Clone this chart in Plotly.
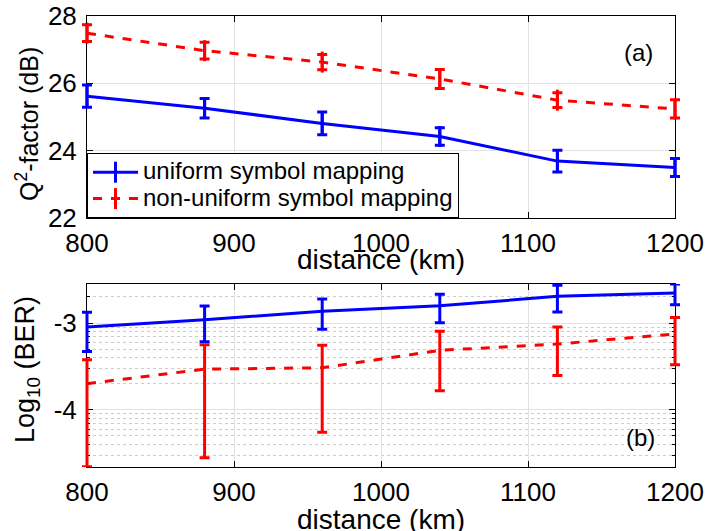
import plotly.graph_objects as go

# ---------------- data ----------------
distance = [800, 880, 960, 1040, 1120, 1200]

q2_uniform = [25.62, 25.26, 24.81, 24.42, 23.69, 23.50]
q2_uniform_err = [0.33, 0.29, 0.34, 0.26, 0.32, 0.27]
q2_nonuniform = [27.49, 26.97, 26.63, 26.13, 25.50, 25.24]
q2_nonuniform_err = [0.25, 0.25, 0.23, 0.28, 0.22, 0.27]

ber_uniform = [9.0e-4, 1.09e-3, 1.37e-3, 1.58e-3, 2.03e-3, 2.22e-3]
ber_uniform_err = [4.3e-4, 4.8e-4, 5.2e-4, 5.7e-4, 6.9e-4, 6.0e-4]
ber_nonuniform = [2.0e-4, 2.94e-4, 3.05e-4, 4.84e-4, 5.73e-4, 7.46e-4]
ber_nonuniform_err = [1.78e-4, 2.66e-4, 2.5e-4, 3.18e-4, 3.25e-4, 4.15e-4]

x_ticks = [800, 900, 1000, 1100, 1200]
q2_ticks = [22, 24, 26, 28]
ber_ticks = [1e-4, 1e-3]
ber_ticktext = ["-4", "-3"]
ber_minor = [m * 10.0 ** e for e in (-5, -4, -3) for m in range(2, 10)]

names = ["uniform symbol mapping", "non-uniform symbol mapping"]

# ---------------- figure ----------------
W, H = 706, 531
FONT = "Liberation Sans, Arial, sans-serif"
BLUE = "#0000FF"
RED = "#FF0000"

X_RANGE = [800, 1200]
PX_L, PX_R = 87, 675          # plot area left/right (pixels)
PAD = 10                      # extra room so end error bars are not clipped
km_per_px = (X_RANGE[1] - X_RANGE[0]) / (PX_R - PX_L)
X_RANGE_AUX = [X_RANGE[0] - PAD * km_per_px, X_RANGE[1] + PAD * km_per_px]

dom_x = [PX_L / W, PX_R / W]
dom_x_aux = [(PX_L - PAD) / W, (PX_R + PAD) / W]
dom_y_top = [1 - 218 / H, 1 - 16 / H]
dom_y_bot = [1 - 467 / H, 1 - 284 / H]
Q2_RANGE = [22, 28]
BER_RANGE = [-4.66, -2.55]

fig = go.Figure()

series = [
    (q2_uniform, q2_uniform_err, ber_uniform, ber_uniform_err, BLUE, "solid", names[0]),
    (q2_nonuniform, q2_nonuniform_err, ber_nonuniform, ber_nonuniform_err, RED, "dash", names[1]),
]

for q2, q2e, ber, bere, col, dash, nm in series:
    legend_name = f"<span style='font-size:24px'>{nm}</span>"
    # lines (main axes)
    fig.add_trace(go.Scatter(
        x=distance, y=q2, mode="lines+markers", name=legend_name,
        line=dict(color=col, width=3, dash=dash),
        marker=dict(symbol="line-ns", size=15, line=dict(color=col, width=3)),
        xaxis="x", yaxis="y", cliponaxis=False,
    ))
    fig.add_trace(go.Scatter(
        x=distance, y=ber, mode="lines", name=legend_name, showlegend=False,
        line=dict(color=col, width=3, dash=dash),
        xaxis="x2", yaxis="y2",
    ))
    # error bars (slightly wider auxiliary axes with the same scale)
    fig.add_trace(go.Scatter(
        x=distance, y=q2, mode="none", showlegend=False, hoverinfo="skip",
        error_y=dict(type="data", array=q2e, color=col, thickness=3, width=5),
        xaxis="x3", yaxis="y3",
    ))
    fig.add_trace(go.Scatter(
        x=distance, y=ber, mode="none", showlegend=False, hoverinfo="skip",
        error_y=dict(type="data", array=bere, color=col, thickness=3, width=5),
        xaxis="x4", yaxis="y4",
    ))

axis_common = dict(
    showline=True, linecolor="black", linewidth=1, mirror="ticks",
    ticks="inside", ticklen=6, tickcolor="black", tickwidth=1,
    showgrid=True, gridcolor="#e2e2e2", gridwidth=1,
    zeroline=False, tickfont=dict(family=FONT, size=26, color="black"),
    automargin=False,
)
aux = dict(visible=False, showgrid=False, zeroline=False, fixedrange=True)

fig.update_layout(
    xaxis=dict(axis_common, domain=dom_x, range=X_RANGE, anchor="y",
               tickvals=x_ticks, ticklabelstandoff=2),
    yaxis=dict(axis_common, domain=dom_y_top, range=Q2_RANGE, anchor="x",
               tickvals=q2_ticks, ticklabelstandoff=4),
    xaxis2=dict(axis_common, domain=dom_x, range=X_RANGE, anchor="y2",
                tickvals=x_ticks, ticklabelstandoff=2),
    yaxis2=dict(axis_common, domain=dom_y_bot, type="log", anchor="x2",
                range=BER_RANGE, tickvals=ber_ticks, ticktext=ber_ticktext,
                ticklabelstandoff=4,
                minor=dict(tickvals=ber_minor, showgrid=True, gridcolor="#cccccc",
                           griddash="dot", gridwidth=1, ticks="inside", ticklen=3,
                           tickcolor="black")),
    xaxis3=dict(aux, domain=dom_x_aux, range=X_RANGE_AUX, anchor="y3"),
    yaxis3=dict(aux, domain=dom_y_top, range=Q2_RANGE, anchor="x3"),
    xaxis4=dict(aux, domain=dom_x_aux, range=X_RANGE_AUX, anchor="y4"),
    yaxis4=dict(aux, domain=dom_y_bot, type="log", range=BER_RANGE, anchor="x4"),
)

def label(text, x, y, size, angle=0):
    return dict(text=text, x=x / W, y=1 - y / H, xref="paper", yref="paper",
                xanchor="center", yanchor="middle", showarrow=False,
                textangle=angle, font=dict(family=FONT, size=size, color="black"))

fig.update_layout(
    width=W, height=H,
    margin=dict(l=0, r=0, t=0, b=0),
    paper_bgcolor="white", plot_bgcolor="rgba(0,0,0,0)",
    font=dict(family=FONT, color="black"),
    showlegend=True,
    legend=dict(
        x=PX_L / W, y=dom_y_top[0], xanchor="left", yanchor="bottom",
        bgcolor="white", bordercolor="black", borderwidth=1,
        font=dict(family=FONT, size=18, color="black"),
        tracegroupgap=0, itemwidth=45,
    ),
    annotations=[
        label("(a)", 638, 52, 24),
        label("(b)", 640, 437, 24),
        label("distance (km)", 381, 259, 28),
        label("distance (km)", 381, 519, 28),
        label("Q<sup>2</sup>-factor (dB)", 27, 124, 25, -90),
        label("Log<sub>10</sub> (BER)", 27, 370, 27, -90),
    ],
)

fig.write_html("out.html")
